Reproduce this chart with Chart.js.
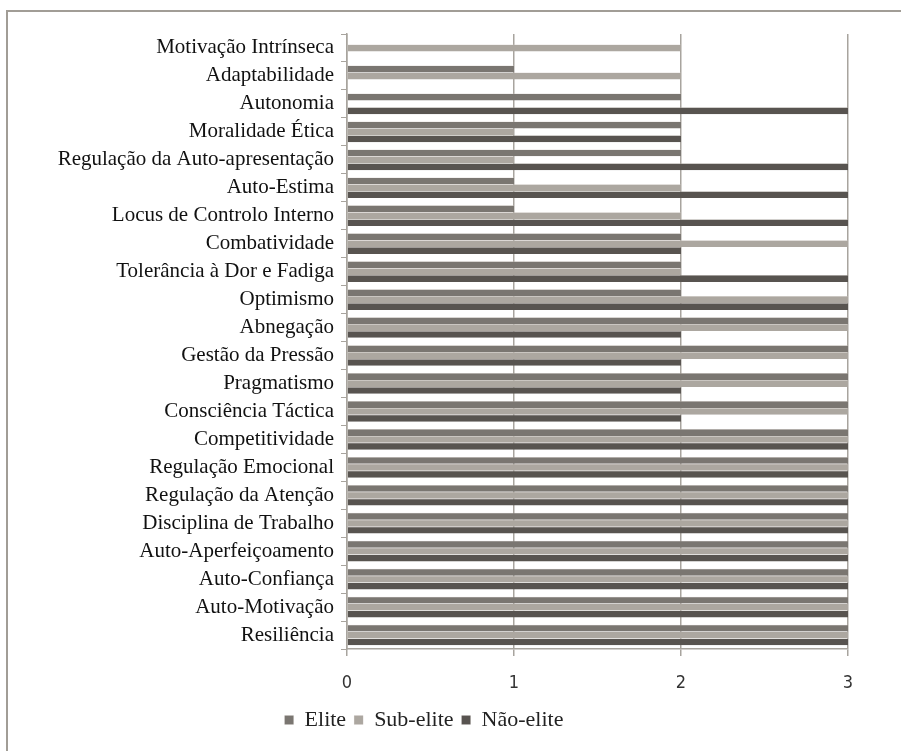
<!DOCTYPE html>
<html>
<head>
<meta charset="utf-8">
<script src="https://cdn.jsdelivr.net/npm/chart.js@4"></script>
<style>
  html, body { margin: 0; padding: 0; background: #ffffff; }
  #wrap { position: relative; width: 901px; height: 751px; overflow: hidden; }
  #frame { position: absolute; left: 6px; top: 10px; right: -5px; bottom: -5px;
           border-top: 2px solid #a19d96; border-left: 2px solid #a19d96; }
  #chart { position: absolute; left: 0; top: 0; }
</style>
</head>
<body>
<div id="wrap">
  <div id="frame"></div>
  <canvas id="chart" width="901" height="751"></canvas>
</div>
<script>
// categories, top to bottom
var categorias = [
  'Motivação Intrínseca', 'Adaptabilidade', 'Autonomia', 'Moralidade Ética',
  'Regulação da Auto-apresentação', 'Auto-Estima', 'Locus de Controlo Interno',
  'Combatividade', 'Tolerância à Dor e Fadiga', 'Optimismo', 'Abnegação',
  'Gestão da Pressão', 'Pragmatismo', 'Consciência Táctica', 'Competitividade',
  'Regulação Emocional', 'Regulação da Atenção', 'Disciplina de Trabalho',
  'Auto-Aperfeiçoamento', 'Auto-Confiança', 'Auto-Motivação', 'Resiliência'
];

var elite    = [0, 1, 2, 2, 2, 1, 1, 2, 2, 2, 3, 3, 3, 3, 3, 3, 3, 3, 3, 3, 3, 3];
var subElite = [2, 2, 0, 1, 1, 2, 2, 3, 2, 3, 3, 3, 3, 3, 3, 3, 3, 3, 3, 3, 3, 3];
var naoElite = [0, 0, 3, 2, 3, 3, 3, 2, 3, 3, 2, 2, 2, 2, 3, 3, 3, 3, 3, 3, 3, 3];

var xTicks = [0, 1, 2, 3];

var serif = '"Liberation Serif", "Times New Roman", serif';
var sansNarrow = '"DejaVu Sans Condensed", "Liberation Sans Narrow", "Open Sans", sans-serif';

function serie(label, data, cor) {
  return {
    label: label,
    data: data,
    backgroundColor: cor,
    borderColor: '#d3ccc7',
    borderWidth: { top: 0.5, bottom: 0, left: 0, right: 0 },
    borderSkipped: false,
    categoryPercentage: 0.74,
    barPercentage: 1.0
  };
}

var ctx = document.getElementById('chart');
new Chart(ctx, {
  type: 'bar',
  data: {
    labels: categorias,
    datasets: [
      serie('Elite', elite, '#7a7671'),
      serie('Sub-elite', subElite, '#aca7a0'),
      serie('Não-elite', naoElite, '#585450')
    ]
  },
  options: {
    indexAxis: 'y',
    responsive: false,
    animation: false,
    layout: { padding: { left: 0, top: 34, right: 53, bottom: 10 } },
    plugins: {
      title: { display: false },
      tooltip: { enabled: false },
      legend: {
        display: true,
        position: 'bottom',
        align: 'center',
        labels: {
          color: '#222',
          font: { family: serif, size: 22 },
          boxWidth: 9,
          boxHeight: 9,
          padding: 8
        }
      }
    },
    scales: {
      x: {
        min: 0,
        max: 3,
        afterBuildTicks: function (scale) {
          scale.ticks = xTicks.map(function (v) { return { value: v }; });
        },
        afterFit: function (scale) { scale.height = 52; },
        grid: {
          color: '#a8a49e',
          lineWidth: 1.5,
          drawTicks: true,
          tickLength: 7,
          tickColor: '#a8a49e'
        },
        border: { display: true, color: '#a8a49e', width: 1.5 },
        ticks: {
          color: '#333',
          font: { family: sansNarrow, size: 18 },
          padding: 17
        }
      },
      y: {
        afterFit: function (scale) { scale.width = 347; },
        grid: {
          drawOnChartArea: false,
          drawTicks: true,
          tickLength: 6,
          color: '#a8a49e',
          offset: true
        },
        border: { display: true, color: '#a8a49e', width: 1.5 },
        ticks: {
          color: '#111',
          font: { family: serif, size: 21 },
          padding: 7,
          autoSkip: false
        }
      }
    }
  }
});
</script>
</body>
</html>
